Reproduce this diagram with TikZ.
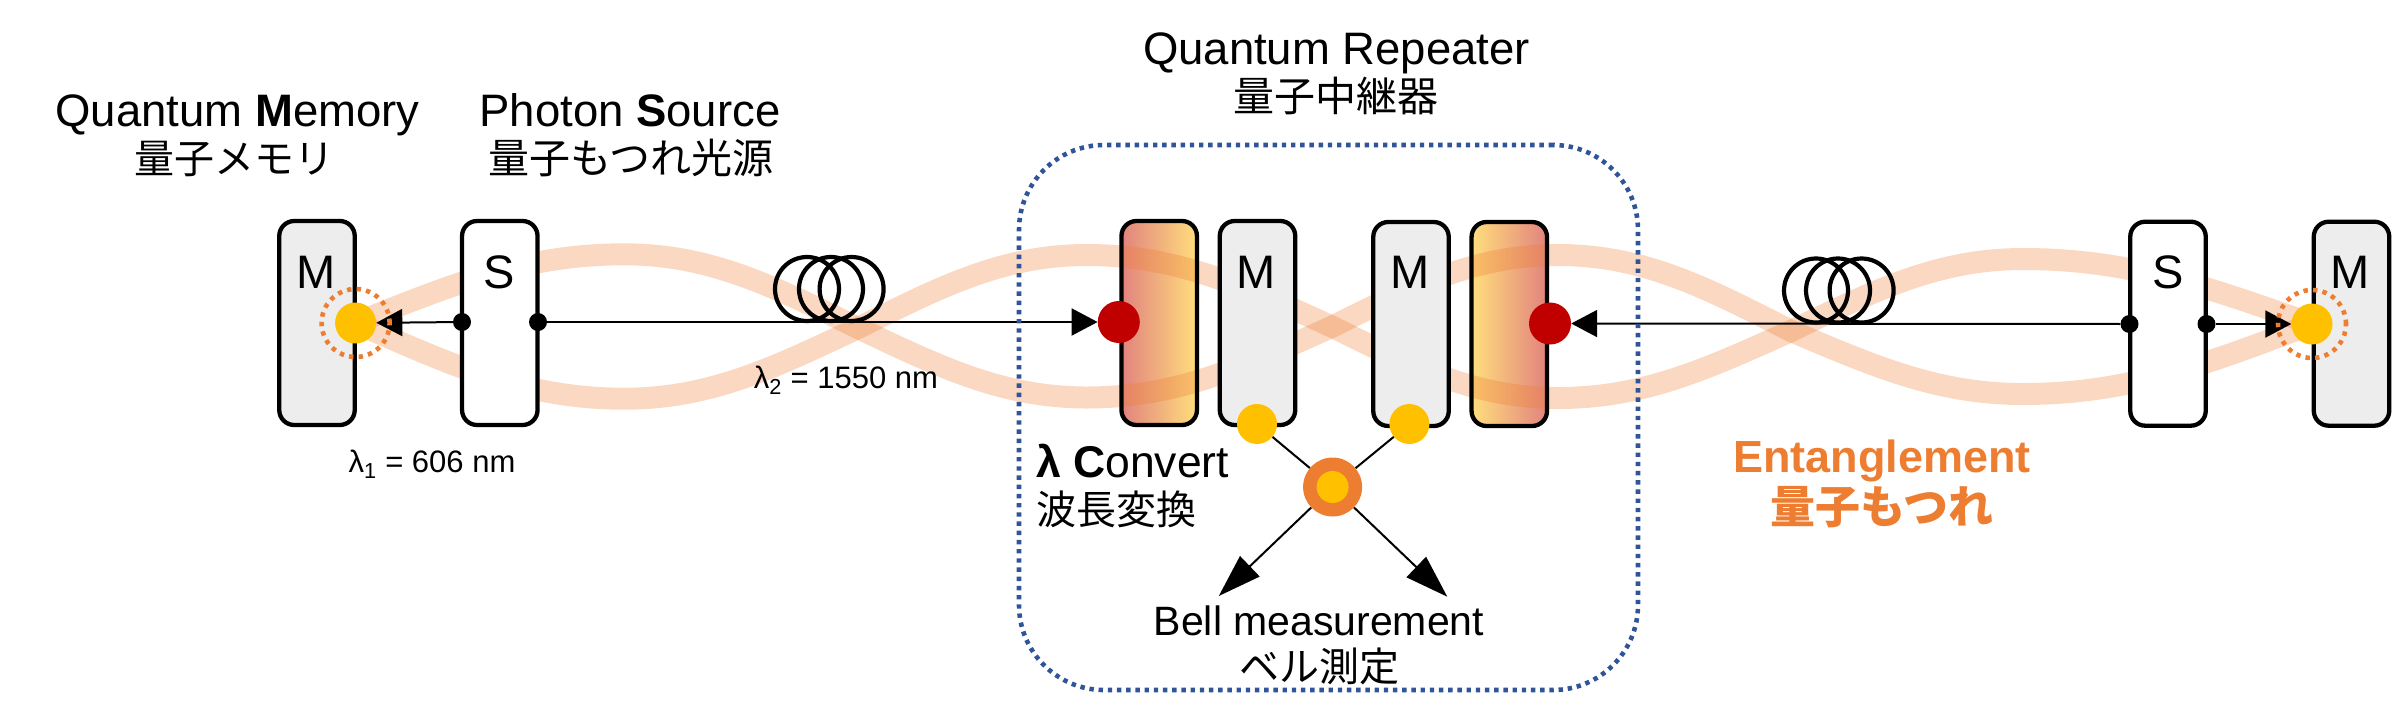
\documentclass[tikz,border=0pt]{standalone}
\usepackage{fontspec}
\setmainfont{Liberation Sans}
\newfontfamily\jp{Noto Sans CJK JP}
\usetikzlibrary{arrows.meta}
\definecolor{orng}{HTML}{ED7D31}
\definecolor{yel}{HTML}{FFC000}
\definecolor{rd}{HTML}{C00000}
\definecolor{blu}{HTML}{2F5597}
\definecolor{memgrey}{HTML}{EDEDED}
\definecolor{gradred}{HTML}{E2837E}
\definecolor{gradyel}{HTML}{FFDE7D}
\tikzset{
  devbox/.style={rectangle,draw=black,line width=4.3pt,rounded corners=15pt,minimum width=75.5pt,minimum height=204pt,inner sep=0pt},
  membox/.style={devbox,fill=memgrey},
  srcbox/.style={devbox,fill=white},
  convfill/.style={rectangle,rounded corners=15pt,minimum width=75.5pt,minimum height=204pt,inner sep=0pt},
  convline/.style={devbox},
  ribbon/.style={line width=22pt,draw=orng,opacity=0.3},
  spot/.style={circle,inner sep=0pt,minimum size=#1},
  ysp/.style={spot=41pt,fill=yel},
  rsp/.style={spot=42pt,fill=rd},
  joint/.style={spot=18pt,fill=black},
  halo/.style={spot=68pt,draw=orng,line width=4.6pt,dash pattern=on 4.4pt off 5.2pt},
  coil/.style={spot=64pt,draw=black,line width=4.2pt},
  wire/.style={draw=black,line width=2pt},
  fibre/.style={wire,-{Triangle[length=26pt,width=27pt]}},
  bigarrow/.style={wire,-{Triangle[length=43pt,width=28pt]}},
  letter/.style={anchor=base,font=\fontsize{47}{47}\selectfont,inner sep=0pt},
  entxt/.style={anchor=base,font=\fontsize{45.5}{46}\selectfont,inner sep=0pt},
  jptxt/.style={anchor=base,font=\jp\fontsize{40}{40}\selectfont,inner sep=0pt},
  small/.style={anchor=base,font=\fontsize{31}{31}\selectfont,inner sep=0pt},
}
\begin{document}
\begin{tikzpicture}[x=1pt,y=-1pt]
\useasboundingbox (0,0) rectangle (2401,724);
% converter gradients under the ribbons
\node[convfill,left color=gradred,right color=gradyel] (convAfill) at (1159.2,323) {};
\node[convfill,left color=gradyel,right color=gradred] (convBfill) at (1509.3,324) {};
% entanglement ribbons
\draw[ribbon] (356,323) .. controls (453.6,283.7) and (526.4,254.3) .. (624,254.3)
  .. controls (709.2,254.3) and (772.8,285.8) .. (858,328)
  .. controls (941.4,367.8) and (1003.6,397.5) .. (1087,397.5)
  .. controls (1176.2,397.5) and (1242.8,367.2) .. (1332,326.7)
  .. controls (1414.3,285.7) and (1475.7,255) .. (1558,255)
  .. controls (1642.9,255) and (1706.1,287.5) .. (1791,331)
  .. controls (1875.5,367) and (1938.5,394) .. (2023,394)
  .. controls (2128.3,394) and (2206.7,364) .. (2312,324);
\draw[ribbon] (356,323) .. controls (453.6,366.3) and (526.4,398.7) .. (624,398.7)
  .. controls (709.2,398.7) and (772.8,368.4) .. (858,328)
  .. controls (941.4,286.2) and (1003.6,255) .. (1087,255)
  .. controls (1176.2,255) and (1242.8,285.7) .. (1332,326.7)
  .. controls (1414.3,367.5) and (1475.7,398) .. (1558,398)
  .. controls (1642.9,398) and (1706.1,369.3) .. (1791,331)
  .. controls (1875.5,289.8) and (1938.5,259) .. (2023,259)
  .. controls (2128.3,259) and (2206.7,286.8) .. (2312,324);
% boxes
\node[membox] (memL) at (317,323) {};
\node[srcbox] (srcL) at (499.8,323) {};
\node[convline] (convA) at (1159.2,323) {};
\node[membox] (memA) at (1257.5,323) {};
\node[membox] (memB) at (1411,324) {};
\node[convline] (convB) at (1509.3,324) {};
\node[srcbox] (srcR) at (2168,323.7) {};
\node[membox] (memR) at (2351.5,323.7) {};
\node[letter] (tM1) at (316,288) {M};
\node[letter] (tS1) at (499,288) {S};
\node[letter] (tM2) at (1256,288) {M};
\node[letter] (tM3) at (1410,288) {M};
\node[letter] (tS2) at (2168,288) {S};
\node[letter] (tM4) at (2350.5,288) {M};
% coils
\node[coil] (c1) at (807,289) {};
\node[coil] (c2) at (831,289) {};
\node[coil] (c3) at (851.6,289) {};
\node[coil] (c4) at (1816,290.5) {};
\node[coil] (c5) at (1838,290.5) {};
\node[coil] (c6) at (1861.6,290.5) {};
% spots
\node[ysp] (yL) at (355.6,323) {};
\node[ysp] (yR) at (2312,324) {};
\node[rsp] (rA) at (1118.8,322) {};
\node[rsp] (rB) at (1550,323.5) {};
\node[joint] (jL1) at (462,322) {};
\node[joint] (jL2) at (538,322) {};
\node[joint] (jR1) at (2129.5,324) {};
\node[joint] (jR2) at (2206.5,324) {};
\node[spot=40pt,fill=yel] (yA) at (1257,424) {};
\node[spot=40pt,fill=yel] (yB) at (1409.4,424) {};
\node[spot=59pt,fill=orng] (bsm) at (1332.6,487) {};
\node[spot=32pt,fill=yel] (bsmin) at (1332.6,487) {};
\coordinate (tipL) at (1218.8,596);
\coordinate (tipR) at (1447.3,596.7);
% connectors
\draw[fibre] (jL1) -- (yL);
\draw[fibre] (jL2) -- (rA);
\draw[fibre] (jR1) -- (rB);
\draw[fibre] (jR2) -- (yR);
\draw[wire] (yA) -- (bsm);
\draw[wire] (yB) -- (bsm);
\draw[bigarrow] (bsm) -- (tipL);
\draw[bigarrow] (bsm) -- (tipR);
% dotted halos and frame
\node[halo] (hL) at (yL) {};
\node[halo] (hR) at (yR) {};
\node[rectangle,draw=blu,line width=4.6pt,dash pattern=on 4.4pt off 4.8pt,rounded corners=85pt,minimum width=619pt,minimum height=545pt,inner sep=0pt] (frame) at (1328.5,417.5) {};
% labels
\node[entxt] (a1) at (237.5,126) {Quantum \textbf{M}emory};
\node[jptxt] (a2) at (234,173) {量子メモリ};
\node[entxt] (b1) at (630,126) {Photon \textbf{S}ource};
\node[jptxt,font=\jp\fontsize{41}{41}\selectfont] (b2) at (631,173) {量子もつれ光源};
\node[entxt] (c1t) at (1336.5,64.5) {Quantum Repeater};
\node[jptxt,font=\jp\fontsize{41}{41}\selectfont] (c2t) at (1335.6,111) {量子中継器};
\node[entxt,anchor=base west,font=\fontsize{44.5}{46}\selectfont] (d1) at (1036,477) {\textbf{λ C}onvert};
\node[jptxt,anchor=base west] (d2) at (1036,524) {波長変換};
\node[entxt,font=\fontsize{41}{41}\selectfont] (e1) at (1319,635) {Bell measurement};
\node[jptxt] (e2) at (1319,681) {ベル測定};
\node[entxt,font=\bfseries\fontsize{45}{45}\selectfont,text=orng] (f1) at (1882,472) {Entanglement};
\node[jptxt,font=\jp\bfseries\fontsize{45}{45}\selectfont,text=orng] (f2) at (1882,523) {量子もつれ};
\node[small] (g1) at (432,472) {λ\textsubscript{1} = 606 nm};
\node[small] (g2) at (846,388) {λ\textsubscript{2} = 1550 nm};
\end{tikzpicture}
\end{document}
